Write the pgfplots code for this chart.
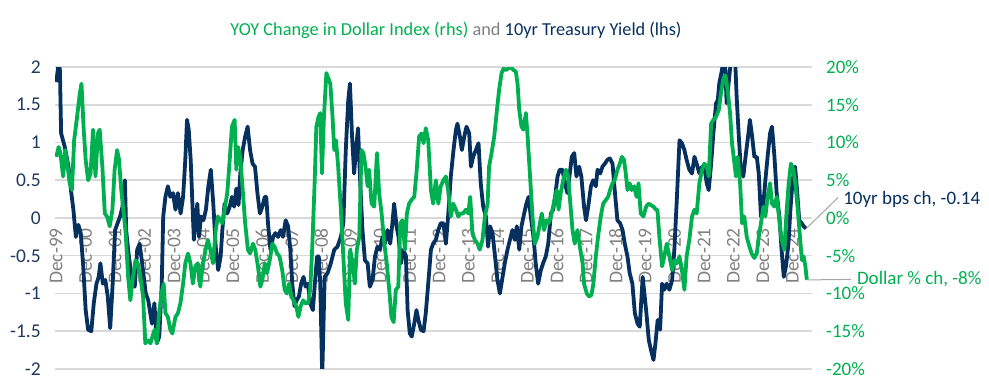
\documentclass[border=0pt]{standalone}
\usepackage{pgfplots}
\pgfplotsset{compat=1.18}
\usepackage{fontspec}
\setmainfont{Carlito}
\definecolor{navy}{HTML}{06305E}
\definecolor{dgreen}{HTML}{00B050}
\definecolor{gridgray}{HTML}{D9D9D9}
\definecolor{labgray}{HTML}{808080}
\definecolor{leftlab}{HTML}{1F3A5F}
\definecolor{leader}{HTML}{A6A6A6}
\pgfplotsset{set layers}
\begin{document}
\begin{tikzpicture}
\begin{axis}[
  scale only axis, width=757pt, height=302pt,
  xmin=-0.5, xmax=308, ymin=-2, ymax=2,
  axis x line*=middle, axis y line*=left,
  every inner x axis line/.append style={-},
  axis line style={draw=none},
  major tick length=0pt,
  xtick={0,12,24,36,48,60,72,84,96,108,120,132,144,156,168,180,192,204,216,228,240,252,264,276,288,300},
  xticklabels={Dec-99,Dec-00,Dec-01,Dec-02,Dec-03,Dec-04,Dec-05,Dec-06,Dec-07,Dec-08,Dec-09,Dec-10,Dec-11,Dec-12,Dec-13,Dec-14,Dec-15,Dec-16,Dec-17,Dec-18,Dec-19,Dec-20,Dec-21,Dec-22,Dec-23,Dec-24},
  xticklabel style={rotate=90, anchor=east, inner sep=0pt, font=\fontsize{19.5}{19.5}\selectfont, text=labgray},
  xticklabel shift=10pt,
  ytick={-2,-1.5,-1,-0.5,0,0.5,1,1.5,2},
  yticklabels={-2,-1.5,-1,-0.5,0,0.5,1,1.5,2},
  yticklabel style={anchor=east, inner sep=0pt, font=\fontsize{19.5}{19.5}\selectfont, text=leftlab},
  yticklabel shift=14pt,
  ymajorgrids, grid style={gridgray, line width=1.5pt},
]
\addplot[navy, line width=3.8pt, line join=round] coordinates {
(0,1.80)(1,2.05)(1.5,1.96)(2,1.12)(3.5,0.94)(5,0.68)(6,0.37)(7,0.11)(8,-0.25)(9,-0.09)(10,-0.20)(11,-0.64)(12,-1.22)(13,-1.48)(14.3,-1.50)(15.3,-1.13)(16.4,-0.87)(17.3,-0.78)(18,-0.60)(19,-0.87)(20,-0.82)(21,-1.04)(22,-1.46)(23,-0.87)(24,-0.16)(25,-0.07)(26,0.02)(27,0.15)(28,0.50)(28.5,-0.16)(29.3,-0.42)(30,-0.60)(31,-0.87)(32,-0.91)(33,-0.42)(34,-0.34)(35,-0.60)(36.5,-1.0)(37.5,-1.09)(39,-1.40)(40,-1.13)(41,-1.66)(42,-1.57)(43,-0.87)(43.6,0.02)(44.5,0.28)(45.5,0.42)(46.5,0.28)(47.6,0.33)(48.6,0.11)(49.6,0.33)(50.7,0.06)(51.7,0.28)(52.6,0.77)(53.3,1.30)(54,1.17)(54.8,0.77)(55.5,0.19)(56.1,-0.29)(56.8,-0.03)(57.5,0.19)(58.2,-0.25)(59,0.02)(60,-0.03)(61,0.11)(62,0.42)(63,0.64)(64,0.19)(65,-0.38)(66,-0.69)(67,-0.51)(67.7,-0.16)(68.6,0.19)(69.7,0.06)(70.7,0.15)(71.6,0.28)(72.5,0.15)(73.4,0.39)(74.3,0.17)(75,0.59)(76,0.90)(77,1.08)(78,1.21)(79,0.90)(80,0.72)(81,0.68)(82,0.33)(83,0.06)(84,0.15)(85,0.28)(85.6,0.28)(86.3,-0.07)(87.3,-0.42)(88.4,-0.25)(89.3,-0.20)(90.4,-0.25)(91.5,-0.16)(92.4,-0.25)(93.5,-0.03)(94.5,-0.11)(95.4,-0.42)(96.2,-0.87)(97.1,-1.17)(98,-1.09)(98.9,-1.04)(99.8,-0.87)(100.8,-0.78)(101.6,-0.91)(102.6,-0.87)(103.5,-1.13)(104.6,-1.22)(105.4,-0.87)(106.3,-0.51)(107,-0.51)(107.6,-0.87)(108.4,-2.1)(109.4,-0.78)
(110.6,-0.73)(111.9,-0.60)(113.3,-0.42)(114.6,-0.38)(116,-0.25)(117,-0.07)(118,0.90)(119,1.56)(119.7,1.78)(120.5,1.12)(121.4,0.59)(122.4,0.99)(123,1.19)(123.9,0.46)(124.8,-0.16)(125.8,-0.56)(126.9,-0.60)(127.8,-0.91)(128.9,-0.82)(129.9,-0.51)(130.9,-0.38)(131.9,-0.42)(133,-0.25)(133.9,-0.34)(135,-0.16)(136.1,-0.34)(137,-0.07)(137.7,0.19)(138.7,-0.11)(139.5,-0.25)(140.5,-0.60)(141.5,-0.42)(142.5,-0.51)(143.2,-1.22)(144.1,-1.53)(144.9,-1.57)(145.9,-1.40)(146.8,-1.22)(147.6,-1.35)(148.6,-1.48)(149.7,-1.50)(150.6,-1.26)(151.6,-0.87)(152.7,-0.42)(153.6,-0.34)(154.7,-0.29)(155.7,-0.16)(156.7,-0.07)(157.8,-0.07)(158.8,-0.34)(159.7,0.02)(160.8,0.55)(161.9,0.90)(162.9,1.17)(163.5,1.25)(164.5,1.08)(165.3,0.90)(166.3,1.08)(167.2,1.21)(168.3,1.12)(169,0.68)(169.9,0.81)(171,0.90)(172.1,0.99)(173,0.46)(174,0.15)(175.1,0.02)(176,-0.38)(176.8,-0.11)(177.8,-0.20)(178.7,-0.47)(179.8,-0.82)(180.8,-1.0)(181.9,-0.78)(182.8,-0.60)(183.9,-0.42)(184.9,-0.29)(185.9,-0.16)(186.9,-0.29)(187.7,-0.11)(188.7,-0.42)(189.6,-0.11)(190.7,0.06)(191.6,0.19)(192.5,0.28)(193.4,0.02)(194.5,-0.25)(195.4,-0.60)(196.4,-0.87)(197.5,-0.69)(198.4,-0.60)(199.5,-0.51)(200.5,-0.34)(201.6,0.06)(202.5,0.11)(203.3,0.28)(204.3,0.55)(205.2,0.64)(206.3,0.64)(207.3,0.46)(208.3,0.33)(209.3,0.59)(210.1,0.81)(211.1,0.86)(212,0.55)(213.1,0.68)(214,0.55)(215.1,0.15)(215.9,-0.03)(216.8,0.15)(217.9,0.42)(218.8,0.50)(219.9,0.42)(220.6,0.64)(221.7,0.59)(222.6,0.68)(223.6,0.72)(224.6,0.77)(225.6,0.79)(226.7,0.72)(227.6,0.37)(228.7,-0.03)(229.8,-0.07)(230.8,-0.16)(231.7,-0.34)(232.8,-0.51)(233.7,-0.73)(234.8,-0.87)(235.8,-1.26)(236.9,-1.40)(237.8,-1.44)(239,-0.78)(240.4,-1.22)(241.5,-1.62)(242.4,-1.75)(243.4,-1.88)(244.2,-1.66)(245.1,-1.35)(246.1,-1.48)(246.9,-0.87)(247.8,-0.95)(248.8,-0.87)(249.9,-0.95)(251,-0.82)(251.9,-0.42)(252.9,0.24)(254,1.03)(255,0.99)(256,0.90)(256.9,0.77)(258,0.64)(259.1,0.59)(260.1,0.81)(261,0.72)(262.1,0.59)(263.2,0.68)(264.1,0.68)(265.1,0.46)(265.9,0.37)(266.9,0.72)(267.8,1.12)(268.9,1.52)(269.6,1.56)(270.2,1.78)(271.3,1.96)(271.9,2.1)(272.7,1.96)(273.2,1.52)(274,1.78)(275,2.1)(276,2.1)(276.8,2.0)(277.3,1.60)(278.1,1.12)(279.1,0.59)(280,0.55)(281.1,0.86)(282.1,1.12)(282.7,1.30)(283.6,1.08)(284.5,0.81)(285.5,0.81)(286.3,0.59)(287.2,0.02)(288.2,0.19)(289,0.50)(289.9,0.81)(290.9,1.12)(291.7,1.21)(292.7,0.81)(293.6,0.33)(294.7,0.02)(295.6,-0.42)(296.5,-0.78)(297.4,-0.64)(298.4,-0.34)(299.2,0.11)(300.1,0.50)(301.1,0.68)(301.9,0.37)(302.8,-0.03)(303.8,-0.07)(304.6,-0.11)(305.6,-0.14)
};
\coordinate (nend) at (axis cs:305.6,-0.14);
\end{axis}
\begin{axis}[
  scale only axis, width=757pt, height=302pt,
  xmin=-0.5, xmax=308, ymin=-20, ymax=20,
  axis x line=none, axis y line*=right,
  axis line style={draw=none},
  major tick length=0pt,
  ytick={-20,-15,-10,-5,0,5,10,15,20},
  yticklabels={-20\%,-15\%,-10\%,-5\%,0\%,5\%,10\%,15\%,20\%},
  yticklabel style={anchor=west, inner sep=0pt, font=\fontsize{19}{19}\selectfont, text=dgreen},
  yticklabel shift=14pt,
]
\addplot[dgreen, line width=3.8pt, line join=round] coordinates {
(0,8.1)(1,9.4)(1.7,8.6)(2.8,5.5)(3.7,9.0)(4.5,7.2)(5.5,4.6)(6.4,3.7)(7.3,10.3)(8.5,13.4)(9.6,16.5)(10.3,17.8)(11.2,11.7)(12,7.7)(13,5.0)(14,5.9)(15,11.7)(16,5.5)(17,11.2)(17.7,11.7)(18.8,6.8)(19.8,0.6)(20.7,0.2)(21.8,-1.1)(22.9,1.1)(23.8,6.4)(24.8,9.0)(25.6,7.7)(26.5,3.7)(27.5,0.6)(28.3,-2.0)(29.3,-7.8)(30.2,-10.9)(31.3,-7.8)(32.3,-5.6)(33.2,-6.0)(34.3,-7.8)(35.4,-10.4)(36.3,-16.6)(37.4,-16.2)(38.4,-16.6)(39.2,-15.7)(40.1,-14.8)(41,-16.6)(41.9,-12.6)(42.9,-10.0)(43.8,-8.7)(44.5,-12.6)(45.5,-13.1)(46.5,-14.8)(47.3,-15.3)(48.6,-13.1)(49.6,-12.6)(50.6,-11.3)(51.7,-8.7)(52.6,-6.0)(53.7,-4.7)(54.7,-6.0)(55.7,-8.7)(56.7,-6.4)(57.7,-6.0)(58.7,-9.1)(59.8,-6.0)(60.9,-4.2)(61.8,-2.9)(62.8,-4.2)(63.9,-6.0)(65,-1.6)(65.9,0.2)(66.9,-0.3)(67.7,-0.7)(68.6,1.1)(69.7,3.3)(70.7,7.7)(71.6,12.1)(72.7,13.0)(73.4,6.4)(74.1,9.4)(75,8.1)(76,3.7)(77,-0.7)(78.1,-4.2)(79,-4.7)(80.2,-3.4)(81.1,-4.2)(82.2,-6.4)(83.2,-9.1)(84,-8.2)(85,-6.0)(85.9,-7.3)(87,-5.6)(88.1,-3.4)(89,-3.8)(90,-4.7)(91,-5.1)(92.1,-6.9)(93.1,-9.5)(94,-10.0)(94.9,-8.7)(95.8,-10.4)(96.7,-10.9)(97.8,-11.7)(98.7,-13.1)(99.6,-11.7)(100.6,-10.9)(101.5,-11.3)(102.6,-11.3)(103.5,-9.5)(104.3,-4.2)(105.3,4.6)(106,12.1)(106.9,13.4)(107.6,13.9)(108.3,5.9)(109.1,13.4)(110.1,19.2)
(111.7,17.8)(112.6,13.4)(113.3,9.0)(114,10.3)(114.9,6.8)(116,1.1)(117,-5.1)(118,-11.3)(119,-13.5)(119.8,-4.2)(120.8,-6.0)(121.7,-8.7)(122.5,-4.2)(123.5,-2.5)(124.4,9.0)(125.2,8.6)(126.2,6.4)(126.9,4.2)(127.5,6.4)(128.5,1.9)(129.6,1.5)(130.7,8.6)(131.6,3.3)(132.6,0.6)(133.7,-3.4)(134.7,-6.0)(135.7,-9.5)(136.6,-13.1)(137.5,-13.8)(138.4,-9.5)(139.4,-9.1)(140.2,-0.7)(141.1,-0.3)(142.1,-4.2)(142.9,0.6)(143.8,1.9)(144.8,2.4)(145.9,2.8)(146.8,5.9)(147.9,10.8)(148.9,11.2)(149.7,9.9)(150.6,11.9)(151.6,10.3)(152.7,3.7)(153.6,1.9)(154.7,5.0)(155.7,1.9)(156.7,4.2)(157.8,5.0)(158.8,5.5)(159.7,3.7)(160.8,0.2)(161.8,1.9)(162.9,1.1)(163.8,0.2)(164.9,0.6)(165.8,0.6)(166.9,1.1)(167.9,0.6)(168.7,2.8)(169.6,-2.0)(170.6,-2.9)(171.7,-3.4)(172.6,-4.2)(173.7,-2.9)(174.7,0.2)(175.8,1.9)(176.4,6.8)(177.4,8.6)(178.5,10.8)(179.6,14.3)(180.5,17.0)(181.5,19.2)(182.3,19.8)(183.2,19.6)(184.2,19.8)(185.3,20.0)(186.3,19.6)(187.3,19.4)(188,17.8)(188.7,14.3)(189.6,12.1)(190.4,11.7)(191.4,13.9)(192.1,10.8)(193.1,5.5)(194.1,0.2)(195,-3.4)(196.1,-2.5)(197.1,-0.7)(197.9,0.6)(198.8,-1.6)(199.8,-0.3)(200.6,-0.7)(201.6,0.2)(202.5,1.5)(203.3,2.8)(204,3.7)(204.7,1.1)(205.6,3.3)(206.6,5.0)(207.7,6.4)(208.6,5.5)(209.4,2.4)(210.4,-1.6)(211.3,-3.4)(212.4,-1.6)(213.4,-3.8)(214.5,-6.0)(215.1,-8.7)(216.2,-10.0)(217.2,-10.4)(218.1,-10.2)(218.9,-8.7)(219.9,-5.1)(220.8,-2.5)(221.9,0.2)(222.9,1.9)(224,2.4)(224.9,2.8)(225.7,3.7)(226.7,4.6)(227.6,5.0)(228.7,6.4)(229.7,7.2)(230.5,8.1)(231.4,7.7)(232.1,5.9)(232.8,3.7)(233.7,4.6)(234.5,3.7)(235.5,4.2)(236.5,2.8)(237.3,4.6)
(238.2,0.6)(239.3,0.2)(240.4,1.5)(241.4,1.9)(242.4,1.7)(243.4,1.5)(244.4,1.1)(245,1.1)(245.8,-2.5)(246.9,-6.4)(247.8,-5.1)(248.8,-3.4)(249.9,-5.1)(251,-6.9)(251.9,-5.6)(252.9,-6.0)(254,-5.1)(255,-6.9)(256,-9.5)(256.9,-5.1)(258,-2.9)(259.1,0.2)(260.1,1.1)(261,0.6)(262.1,4.6)(263.2,6.4)(264.1,7.2)(265.1,6.8)(265.9,5.5)(266.9,12.5)(267.8,13.0)(268.9,13.4)(270,14.3)(270.9,16.5)(271.9,18.5)(272.7,18.9)(273.6,17.0)(274.6,13.9)(275.4,9.9)(276.4,7.2)(277,5.5)(277.7,8.1)(278.7,4.6)(279.5,-0.7)(280.4,0.2)(281.4,-2.5)(282.5,-3.8)(283.4,-4.7)(284.5,-5.3)(285.5,-4.7)(286.3,-2.5)(287.2,-0.7)(288.2,1.5)(289,0.2)(289.9,2.8)(290.9,4.6)(291.7,1.9)(292.7,1.5)(293.6,2.8)(294.7,-0.3)(295.6,-2.9)(296.7,-4.2)(297.7,1.1)(298.5,4.6)(299.4,7.2)(300.4,6.4)(301.2,4.6)(302.2,1.1)(303.1,-2.5)(303.9,-5.6)(304.6,-5.1)(305.3,-6.4)(305.9,-8.2)
};
\coordinate (gend) at (axis cs:305.9,-8.2);
\end{axis}
\draw[leader, line width=1pt] (nend) -- ++(32pt,31pt) coordinate (ntip);
\node[anchor=west, inner sep=0pt, text=navy, font=\fontsize{19}{19}\selectfont] at ([xshift=5pt,yshift=-1.5pt]ntip) {10yr bps ch, -0.14};
\draw[leader, line width=1pt] (gend) -- ++(44pt,0.5pt) coordinate (gtip);
\node[anchor=west, inner sep=0pt, text=dgreen, font=\fontsize{19}{19}\selectfont] at ([xshift=6pt]gtip) {Dollar \% ch, -8\%};
\node[anchor=center, inner sep=0pt, font=\fontsize{18.3}{18.3}\selectfont] at (401pt,339pt) {{\color{dgreen}YOY Change in Dollar Index (rhs)} {\color{labgray}and} {\color{navy}10yr Treasury Yield (lhs)}};
\pgfresetboundingbox
\path (-55pt,-22pt) rectangle (934pt,369pt);
\end{tikzpicture}
\end{document}
